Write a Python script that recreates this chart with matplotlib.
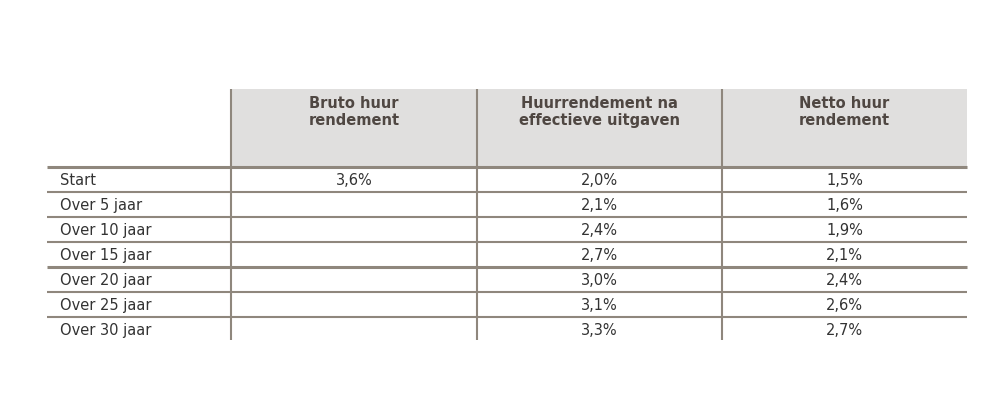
import matplotlib
matplotlib.use("Agg")
import matplotlib.pyplot as plt
from matplotlib.patches import Rectangle

columns = ["Bruto huur\nrendement", "Huurrendement na\neffectieve uitgaven", "Netto huur\nrendement"]
rows = ["Start", "Over 5 jaar", "Over 10 jaar", "Over 15 jaar", "Over 20 jaar", "Over 25 jaar", "Over 30 jaar"]
bruto = ["3,6%", "", "", "", "", "", ""]
effectief = ["2,0%", "2,1%", "2,4%", "2,7%", "3,0%", "3,1%", "3,3%"]
netto = ["1,5%", "1,6%", "1,9%", "2,1%", "2,4%", "2,6%", "2,7%"]

fig = plt.figure(figsize=(10, 4.11), dpi=100)
ax = fig.add_axes([0, 0, 1, 1])
ax.set_xlim(0, 1000)
ax.set_ylim(411, 0)
ax.axis("off")

line_c = "#8f877d"
hdr_bg = "#e0dfde"
x_left, x_right = 47, 967
col_x = [231, 477, 722, 967]
top, hdr_bot, row_h = 89, 167, 25
bottom = hdr_bot + row_h * len(rows) - 2

ax.add_patch(Rectangle((col_x[0], top), col_x[-1] - col_x[0], hdr_bot - top, color=hdr_bg, lw=0))
for i, c in enumerate(columns):
    cx = (col_x[i] + col_x[i + 1]) / 2
    ax.text(cx, 112, c, ha="center", va="center", fontsize=10.5, fontweight="bold",
            color="#4f4742", linespacing=1.15, family="DejaVu Sans")

for i in range(len(rows)):
    y = hdr_bot + row_h * i
    lw = 2.2 if i in (0, 4) else 1.5
    ax.plot([x_left, x_right], [y, y], color=line_c, lw=lw, solid_capstyle="butt")
    yc = y + 13
    ax.text(60, yc, rows[i], ha="left", va="center", fontsize=10.5, color="#333333")
    for j, vals in enumerate([bruto, effectief, netto]):
        cx = (col_x[j] + col_x[j + 1]) / 2
        ax.text(cx, yc, vals[i], ha="center", va="center", fontsize=10.5, color="#333333")

for x in col_x[:-1]:
    ax.plot([x, x], [top, bottom], color=line_c, lw=1.5, solid_capstyle="butt")

fig.savefig("out.png", dpi=100)
